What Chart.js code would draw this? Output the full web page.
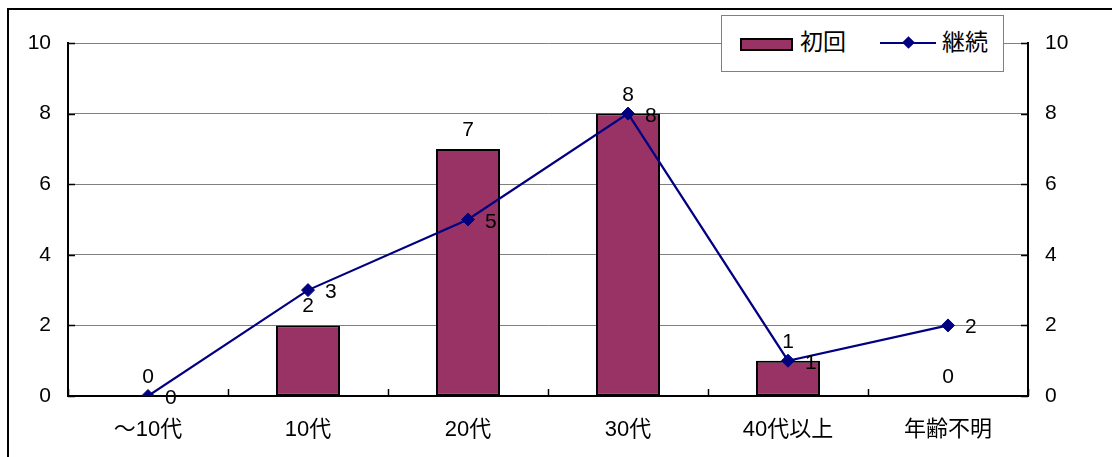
<!DOCTYPE html>
<html lang="ja">
<head>
<meta charset="utf-8">
<script src="https://cdn.jsdelivr.net/npm/chart.js@4/dist/chart.umd.min.js"></script>
<style>
  html, body { margin: 0; padding: 0; background: #fff; overflow: hidden; }
  body { width: 1112px; height: 457px; position: relative; font-family: "Liberation Sans", Arial, "Noto Sans CJK JP", sans-serif; }
  #frame { position: absolute; left: 7px; top: 8px; width: 1200px; height: 600px; border-left: 2px solid #000; border-top: 2px solid #000; }
  #wrap { position: absolute; left: 0; top: 0; width: 1112px; height: 457px; }
  #legend { position: absolute; left: 721px; top: 15px; width: 281px; height: 55px; border: 1px solid #808080; background: #fff; font-size: 23px; color: #000; }
  .sw-bar { position: absolute; left: 18px; top: 22px; width: 49px; height: 9px; background: #993366; border: 2px solid #000; }
  .lb1 { position: absolute; left: 78px; top: 13px; line-height: 27px; }
  .sw-line { position: absolute; left: 158px; top: 26px; width: 56px; height: 2px; background: #000080; }
  .sw-dia { position: absolute; left: 182px; top: 22px; width: 9px; height: 9px; background: #000080; transform: rotate(45deg); }
  .lb2 { position: absolute; left: 220px; top: 13px; line-height: 27px; }
</style>
</head>
<body>
<div id="frame"></div>
<div id="wrap"><canvas id="chart" width="1112" height="457"></canvas></div>
<div id="legend">
  <span class="sw-bar"></span><span class="lb1">初回</span>
  <span class="sw-line"></span><span class="sw-dia"></span><span class="lb2">継続</span>
</div>
<script>
// 年代別の件数
const ageGroups = ['～10代', '10代', '20代', '30代', '40代以上', '年齢不明'];
const firstVisit = [0, 2, 7, 8, 1, 0];   // 初回
const continued = [0, 3, 5, 8, 1, 2];    // 継続
const axisTicks = [0, 2, 4, 6, 8, 10];

const FONT = '"Liberation Sans", Arial, "Noto Sans CJK JP", sans-serif';
Chart.defaults.font.family = FONT;
Chart.defaults.font.size = 21;
Chart.defaults.color = '#000';

// 軸の内側向き目盛り線
const innerTicks = {
  id: 'innerTicks',
  afterDraw(chart) {
    const { ctx, chartArea: a, scales } = chart;
    ctx.save();
    ctx.strokeStyle = '#000';
    ctx.lineWidth = 1.5;
    ctx.beginPath();
    axisTicks.forEach(v => {
      const y = Math.round(scales.y.getPixelForValue(v)) + 0.5;
      ctx.moveTo(a.left, y); ctx.lineTo(a.left + 7, y);
      ctx.moveTo(a.right - 7, y); ctx.lineTo(a.right, y);
    });
    const step = (a.right - a.left) / ageGroups.length;
    for (let i = 0; i <= ageGroups.length; i++) {
      const x = Math.round(a.left + i * step) + 0.5;
      ctx.moveTo(x, a.bottom); ctx.lineTo(x, a.bottom - 7);
    }
    ctx.stroke();
    ctx.restore();
  }
};

// 値ラベル（棒は上、折れ線は右）
const valueLabels = {
  id: 'valueLabels',
  afterDatasetsDraw(chart) {
    const { ctx } = chart;
    ctx.save();
    ctx.font = '21px ' + FONT;
    ctx.fillStyle = '#000';
    ctx.textBaseline = 'alphabetic';
    chart.data.datasets.forEach((ds, di) => {
      const meta = chart.getDatasetMeta(di);
      meta.data.forEach((el, i) => {
        const v = ds.data[i];
        if (ds.type === 'bar') {
          ctx.textAlign = 'center';
          ctx.fillText(String(v), el.x, el.y - 13);
        } else {
          ctx.textAlign = 'left';
          ctx.fillText(String(v), el.x + 17, el.y + 8);
        }
      });
    });
    ctx.restore();
  }
};

new Chart(document.getElementById('chart'), {
  data: {
    labels: ageGroups,
    datasets: [
      {
        type: 'line',
        label: '継続',
        data: continued,
        order: 0,
        yAxisID: 'y',
        borderColor: '#000080',
        borderWidth: 2.2,
        backgroundColor: '#000080',
        pointStyle: 'rectRot',
        pointRadius: 6.5,
        pointBorderWidth: 1,
        tension: 0
      },
      {
        type: 'bar',
        label: '初回',
        data: firstVisit,
        order: 1,
        yAxisID: 'y',
        backgroundColor: '#993366',
        borderColor: '#000',
        borderWidth: 2,
        borderSkipped: false,
        categoryPercentage: 0.8,
        barPercentage: 0.5
      }
    ]
  },
  options: {
    responsive: false,
    animation: false,
    layout: { padding: { top: 43, left: 0, right: 0, bottom: 0 } },
    plugins: { legend: { display: false }, tooltip: { enabled: false } },
    scales: {
      x: {
        grid: { display: false, drawTicks: false },
        border: { display: true, color: '#000', width: 2 },
        ticks: { padding: 21, font: { size: 22 } },
        afterFit: s => { s.height = 61; }
      },
      y: {
        position: 'left',
        min: 0, max: 10,
        ticks: { stepSize: 2, padding: 17 },
        grid: { color: '#808080', lineWidth: 1, drawTicks: false },
        border: { display: true, color: '#000', width: 2 },
        afterFit: s => { s.width = 68; }
      },
      y1: {
        position: 'right',
        min: 0, max: 10,
        ticks: { stepSize: 2, padding: 17 },
        grid: { display: false, drawTicks: false },
        border: { display: true, color: '#000', width: 2 },
        afterFit: s => { s.width = 84; }
      }
    }
  },
  plugins: [innerTicks, valueLabels]
});
</script>
</body>
</html>
